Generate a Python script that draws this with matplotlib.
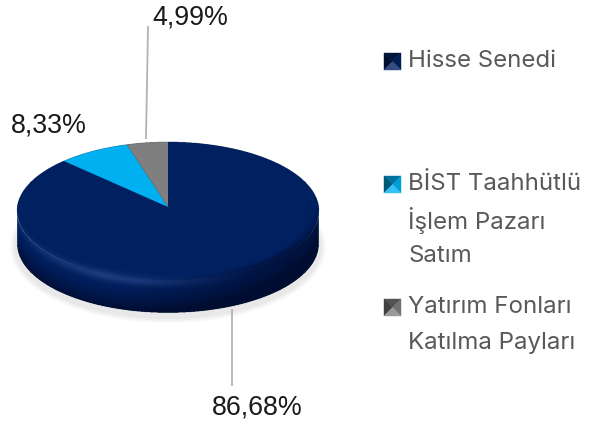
import numpy as np
import matplotlib

matplotlib.use("Agg")
import matplotlib.pyplot as plt
from matplotlib.patches import Ellipse, Polygon
from matplotlib.transforms import Affine2D

W, H = 594, 424

# data
shares = [86.68, 8.33, 4.99]
colors = ["#002060", "#00B0F0", "#7F7F7F"]
value_labels = ["86,68%", "8,33%", "4,99%"]
legend_labels = ["Hisse Senedi", "BİST Taahhütlü\nİşlem Pazarı\nSatım", "Yatırım Fonları\nKatılma Payları"]

# geometry, in pixels from the top left corner
CX, APEX_Y, RX, RY_PIE = 168, 207, 151, 74
RIM_Y, RIM_RY, DEPTH = 211, 69, 33


def py(y):
    return H - y


def lighter(col, amount):
    c = np.array(matplotlib.colors.to_rgb(col))
    if amount >= 0:
        return tuple(c + (1 - c) * amount)
    return tuple(c * (1 + amount))


def side_shading():
    # rim and side of the disc as an RGBA layer on top of the flat pie
    ss = 3
    xs = (np.arange(W * ss) + 0.5) / ss
    ys = (np.arange(H * ss) + 0.5) / ss
    x, y = np.meshgrid(xs, ys)
    u = (x - CX) / RX
    r_top = np.sqrt(u**2 + ((y - RIM_Y) / RIM_RY) ** 2)
    r_bot = np.sqrt(u**2 + ((y - RIM_Y - DEPTH) / RIM_RY) ** 2)
    in_mid = (np.abs(u) <= 1) & (y > RIM_Y) & (y < RIM_Y + DEPTH)
    side = ((r_bot <= 1) | in_mid) & (r_top > 1)

    edge_y = RIM_Y + RIM_RY * np.sqrt(np.clip(1 - u**2, 0, 1))
    sd = (y - edge_y) / DEPTH
    d = np.clip(sd, 0, 1)
    right = np.clip((u + 0.4) / 1.2, 0, 1)

    # light band across the rim on the lower left, dark towards the outer edge
    glow = np.exp(-(((sd - 0.05) / 0.15) ** 2)) * (1 - right) ** 0.7 * np.clip(1.2 - np.abs(u + 0.3) * 1.3, 0, 1)
    glow = np.clip(glow, 0, 1)
    base = np.array([0.0, 0.125, 0.376])
    dark = np.array([0.0, 0.05, 0.19])
    lite = np.array([0.11, 0.23, 0.48])
    mix = np.clip(d**2 * 0.95 + right * 0.7, 0, 1)[..., None]
    rgb = base * (1 - mix) + dark * mix
    rgb = rgb + (lite - rgb) * glow[..., None]

    # soft bevel just inside the rim of the top face, stronger on the right
    inside = r_top <= 1
    bevel = np.clip((r_top - 0.92) / 0.08, 0, 1) ** 1.5 * inside
    lower = np.clip((y - RIM_Y + 10) / 50, 0, 1)
    a_dark = bevel * lower * right * 0.9
    a_glow = glow * inside * (y > RIM_Y)
    a_top = np.maximum(a_dark, a_glow)
    w_glow = (a_glow / np.maximum(a_dark + a_glow, 1e-6))[..., None]
    top_rgb = lite * w_glow + dark * (1 - w_glow)
    top_rgb = np.where(inside[..., None], top_rgb, 1.0)

    # the wedges are a bit taller than the rim, white out what sticks above it
    above = (r_top > 1) & (y < RIM_Y) & (np.abs(u) < 1.03)
    alpha = np.where(side | above, 1.0, a_top)
    out = np.where(side[..., None], rgb, top_rgb)
    return np.dstack([out, alpha])


def draw_legend_key(ax, x0, y0, size, col):
    # small pyramid-like square
    x1, y1 = x0 + size, y0 + size
    xm, ym = x0 + size / 2, y0 + size / 2
    faces = [
        ([(x0, y0), (x1, y0), (xm, ym)], lighter(col, -0.35)),
        ([(x0, y0), (x0, y1), (xm, ym)], lighter(col, -0.5)),
        ([(x1, y0), (x1, y1), (xm, ym)], lighter(col, -0.1)),
        ([(x0, y1), (x1, y1), (xm, ym)], lighter(col, 0.2)),
    ]
    for pts, fc in faces:
        ax.add_patch(Polygon([(a, py(b)) for a, b in pts], fc=fc, ec=fc, lw=0.3, zorder=4))


fig = plt.figure(figsize=(W / 100, H / 100), dpi=100)
ax = fig.add_axes([0, 0, 1, 1])

# drop shadow under the disc
for grow, a in zip((7, 5, 3), (0.05, 0.06, 0.07)):
    ax.add_patch(Ellipse((CX, py(RIM_Y + DEPTH + 3)), 2 * (RX + grow), 2 * (RIM_RY + grow),
                         fc="#808080", ec="none", alpha=a, zorder=1))

ax.add_patch(Ellipse((CX, py(RIM_Y)), 2 * RX, 2 * RIM_RY, fc=colors[0], ec="none", zorder=2))

wedges, _ = ax.pie(shares, colors=colors, startangle=90, counterclock=False,
                   center=(CX, py(APEX_Y)), radius=RX, frame=True)
squash = Affine2D().translate(-CX, -py(APEX_Y)).scale(1, RY_PIE / RX).translate(CX, py(APEX_Y))
for w in wedges:
    w.set_transform(squash + ax.transData)
    w.set_zorder(3)
    w.set_linewidth(0)

ax.imshow(side_shading(), extent=(0, W, 0, H), origin="upper", interpolation="antialiased",
          aspect="auto", zorder=3.5)
ax.set_xlim(0, W)
ax.set_ylim(0, H)
ax.set_aspect("auto")
ax.axis("off")

# leader lines
ax.plot([148, 146], [py(27), py(138)], color="#b3b3b3", lw=1.3, zorder=3.8)
ax.plot([232, 232], [py(310), py(385)], color="#b3b3b3", lw=1.3, zorder=2)

# value labels
label_pos = [(257.5, 408), (48.5, 126), (190, 17)]
for txt, (x, y) in zip(value_labels, label_pos):
    ax.text(x, py(y), txt, ha="center", va="center", fontsize=19.3, color="#1a1a1a",
            family="Liberation Sans", zorder=5)

# legend, written by hand because of the wide line spacing
legend_tops = [60, 183, 306]
for lab, col, y in zip(legend_labels, colors, legend_tops):
    draw_legend_key(ax, 384, y - 7, 17, col)
    for i, line in enumerate(lab.split("\n")):
        ax.text(408, py(y + 1 + i * 36), line, ha="left", va="center", fontsize=17.3,
                color="#595959", family="Inter", zorder=5)

fig.savefig("out.png", dpi=100)
